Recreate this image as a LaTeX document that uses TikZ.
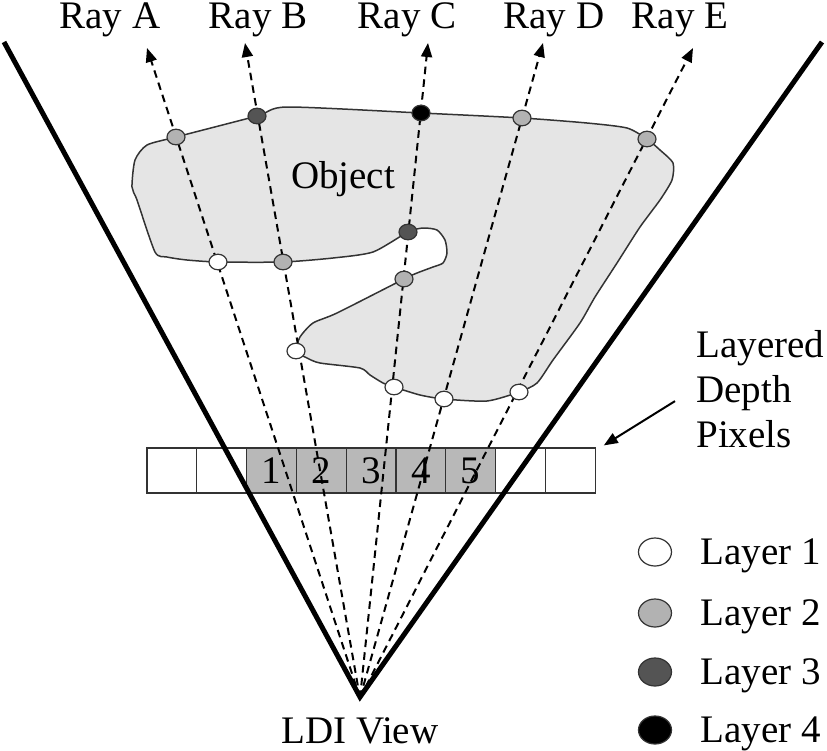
\documentclass[tikz,border=0pt]{standalone}
\usepackage{fontspec}
\setmainfont{Liberation Serif}
\usetikzlibrary{arrows.meta,shapes.geometric,calc}

\definecolor{objgray}{gray}{0.9}
\definecolor{cellgray}{gray}{0.72}
\definecolor{laytwo}{gray}{0.7}
\definecolor{laythree}{gray}{0.33}
\definecolor{rimgray}{gray}{0.2}

\begin{document}
\begin{tikzpicture}[x=0.5pt,y=-0.5pt,
    every node/.style={font=\fontsize{19.5}{22.5}\selectfont},
    txt/.style={inner sep=0pt},
    ray/.style={dash pattern=on 3.8pt off 2.6pt, line width=1pt, -{Triangle[length=7pt,width=5.5pt]}},
    cone/.style={line width=2.5pt, line join=miter},
    hit/.style={ellipse, draw=rimgray, line width=0.6pt, inner sep=0pt, minimum width=9pt, minimum height=7.8pt},
    lone/.style={hit, fill=white},
    ltwo/.style={hit, fill=laytwo},
    lthree/.style={hit, fill=laythree},
    lfour/.style={hit, fill=black},
    legdot/.style={hit, minimum width=16.5pt, minimum height=14pt},
    pixcell/.style={draw=rimgray, line width=0.6pt, minimum width=24.9pt, minimum height=22.5pt, inner sep=0pt},
    pointer/.style={line width=1pt, -{Triangle[length=7pt,width=5.5pt]}}]
\useasboundingbox (0,0) rectangle (827,751);

% the object
\draw[rimgray, line width=0.75pt, fill=objgray] plot[smooth cycle, tension=0.4] coordinates {
    (176,137) (257,116) (287,107) (421,113) (522,118) (587,123) (627,128) (647,139)
    (660,150) (673,163) (672,180) (660,200) (640,227) (617,263) (595,297) (580,323)
    (553,360) (537,383) (519,392) (487,401) (444,399) (420,395) (394,387) (383,383)
    (370,375) (360,368) (320,363) (307,358) (296,351) (300,337) (313,323) (337,313)
    (404,279) (417,273) (433,267) (443,263) (447,253) (445,240) (437,230) (423,228)
    (408,232) (373,252) (333,258) (283,262) (218,262) (187,260) (167,257) (155,252)
    (137,200) (132,187) (135,160) (147,145)};
\node[txt, anchor=base] (obj) at (343,188) {Object};

% layered depth pixels
\foreach \i/\n/\c in {0/{}/white,1/{}/white,2/1/cellgray,3/2/cellgray,4/3/cellgray,
                      5/4/cellgray,6/5/cellgray,7/{}/white,8/{}/white}
    \node[pixcell, fill=\c] (cell\i) at ({171.9+49.8*\i},470.5) {\n};

% view and rays
\coordinate (V) at (360,698);
\coordinate (tipA) at (147,48);
\coordinate (tipB) at (245,43);
\coordinate (tipC) at (428,43);
\coordinate (tipD) at (543,43);
\coordinate (tipE) at (693,48);
\foreach \r in {A,B,C,D,E}
    \draw[ray] (V) -- (tip\r);

\coordinate (coneL) at (4,42);
\coordinate (coneR) at (822,42);
\draw[cone] (coneL) -- (360,697) -- (coneR);

% hits along the rays
\node[ltwo] (a2) at (176,137) {};
\node[lone] (a1) at (218,262) {};
\node[lthree] (b3) at (257,116) {};
\node[ltwo] (b2) at (283,262) {};
\node[lone] (b1) at (296,351) {};
\node[lfour] (c4) at (421,113) {};
\node[lthree] (c3) at (408,232) {};
\node[ltwo] (c2) at (404,279) {};
\node[lone] (c1) at (394,387) {};
\node[ltwo] (d2) at (522,118) {};
\node[lone] (d1) at (444,399) {};
\node[ltwo] (e2) at (647,139) {};
\node[lone] (e1) at (519,392) {};

% labels
\node[txt, anchor=base] (rayA) at (110,28) {Ray A};
\node[txt, anchor=base] (rayB) at (258,28) {Ray B};
\node[txt, anchor=base] (rayC) at (407,28) {Ray C};
\node[txt, anchor=base] (rayD) at (554,28) {Ray D};
\node[txt, anchor=base] (rayE) at (680,28) {Ray E};
\node[txt, anchor=base] (view) at (360,743) {LDI View};

\node[txt, align=left, anchor=north west] (ldp) at (696,330) {Layered\\Depth\\Pixels};
\draw[pointer] ($(ldp.west)+(-21,12)$) -- ([shift={(8,-2)}]cell8.north east);

% legend
\foreach \k/\c/\y in {1/white/552,2/laytwo/613,3/laythree/672,4/black/730} {
    \node[legdot, fill=\c] (key\k) at (655,\y) {};
    \node[txt, anchor=base west] (keylab\k) at (700,\y+12) {Layer \k};
}
\end{tikzpicture}
\end{document}
